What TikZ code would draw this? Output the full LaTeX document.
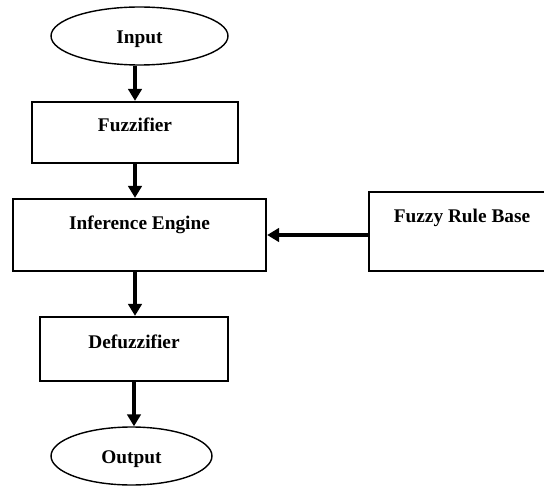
\documentclass[tikz,border=0pt]{standalone}
\usepackage{fontspec}
\setmainfont{Liberation Serif}
\usetikzlibrary{positioning,shapes.geometric,arrows.meta}

\begin{document}
\begin{tikzpicture}[x=0.02cm,y=-0.02cm,
    every node/.style={font=\bfseries\fontsize{11}{13}\selectfont,inner sep=0pt},
    termnode/.style={draw,ellipse,line width=0.8pt,text height=11pt,text depth=2.5pt},
    procnode/.style={draw,rectangle,line width=1.3pt,text height=8pt},
    flow/.style={line width=1.8pt,-{Triangle[length=0.24cm,width=0.27cm]}}
  ]
  \useasboundingbox (0,0) rectangle (544,486);
  \clip (0,0) rectangle (544,486);

  % the start and end
  \node[termnode,minimum width=3.54cm,minimum height=1.16cm] (inp) at (139.5,36) {Input};
  \node[termnode,minimum width=3.22cm,minimum height=1.16cm] (outp) at (131.5,456) {Output};

  % the stages
  \node[procnode,minimum width=4.12cm,minimum height=1.22cm,text depth=9.3pt] (fuzz) at (135,132.5) {Fuzzifier};
  \node[procnode,minimum width=5.06cm,minimum height=1.44cm,text depth=14.5pt] (infer) at (139.5,235) {Inference Engine};
  \node[procnode,minimum width=3.76cm,minimum height=1.28cm,text depth=8.8pt] (defuzz) at (134,349) {Defuzzifier};

  % the rules
  \node[procnode,minimum width=3.72cm,minimum height=1.58cm,text depth=18.4pt] (rules) at (462,231.5) {Fuzzy Rule Base};

  % the edges
  \draw[flow] (fuzz.north |- inp.south) -- (fuzz.north);
  \draw[flow] (fuzz.south) -- (fuzz.south |- infer.north);
  \draw[flow] (infer.south -| fuzz.south) -- (defuzz.north -| fuzz.south);
  \draw[flow] (defuzz.south) -- (defuzz.south |- outp.north);
  \draw[flow] (rules.west |- infer.east) -- (infer.east);
\end{tikzpicture}
\end{document}
